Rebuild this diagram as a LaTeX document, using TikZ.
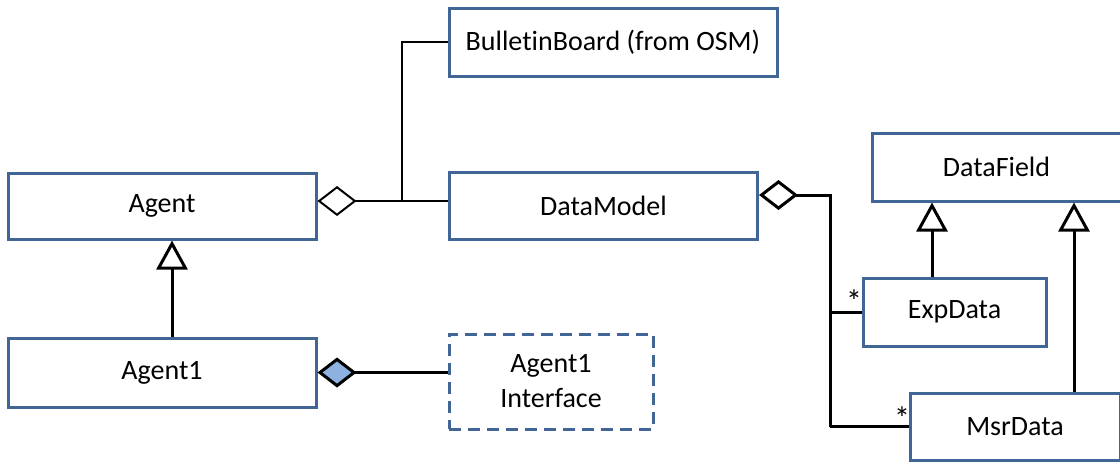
\documentclass[tikz,border=0pt]{standalone}
\usepackage{fontspec}
\setmainfont{Carlito}[Ligatures=NoCommon]
\usetikzlibrary{positioning,arrows.meta}
\definecolor{boxblue}{RGB}{65,101,148}
\definecolor{diafill}{RGB}{141,178,226}
\begin{document}
\begin{tikzpicture}[x=0.5pt,y=-0.5pt,
    cls/.style={draw=boxblue,line width=1.5pt,fill=white,align=center,inner sep=0pt,
        font=\fontsize{14}{17.5}\selectfont},
    mult/.style={inner sep=0pt,font=\fontsize{16}{16}\selectfont},
    link/.style={line width=1.5pt},
    thinlink/.style={line width=1pt},
    aggr/.style={-{Diamond[open,length=19.5pt,width=15pt]}},
    comp/.style={link,-{Diamond[fill=diafill,length=19.5pt,width=15pt]}},
    inherit/.style={link,-{Triangle[open,length=14.5pt,width=15.5pt]}}]
    \useasboundingbox (0,0) rectangle (1120,462);
    \node[cls,minimum width=154pt,minimum height=33pt] (agent) at (162,206) {Agent};
    \node[cls,minimum width=154pt,minimum height=34.5pt] (agentone) at (162,372.5) {Agent1};
    \node[cls,dash pattern=on 6pt off 3.5pt,minimum width=102pt,minimum height=47.5pt] (iface) at (551,381.5) {Agent1\\Interface};
    \node[cls,minimum width=164pt,minimum height=34pt] (board) at (613,42) {BulletinBoard (from OSM)};
    \node[cls,minimum width=154pt,minimum height=33.5pt] (model) at (603.5,206) {DataModel};
    \node[cls,minimum width=124.5pt,minimum height=34pt] (field) at (996.5,167) {DataField};
    \node[cls,minimum width=91.5pt,minimum height=34pt] (exp) at (954.5,312) {ExpData};
    \node[cls,minimum width=105pt,minimum height=33.5pt] (msr) at (1015,426.5) {MsrData};
    \coordinate (bbjoin) at (402,201);
    \coordinate (bus) at (830,426.5);
    \coordinate (expjoin) at (830,312);
    \draw[thinlink] (bbjoin) |- (board.west);
    \draw[thinlink,aggr] ([yshift=2.5pt]agent.east -| model.west) -- ([yshift=2.5pt]agent.east);
    \draw[link] (msr.west) -- (bus);
    \draw[link,aggr] (bus) |- ([yshift=5.5pt]model.east);
    \draw[link] (expjoin) -- (exp.west);
    \node[mult,above left=-0.5pt and -0.5pt of exp.west] (expmult) {*};
    \node[mult,above left=-1.75pt and -1pt of msr.west] (msrmult) {*};
    \draw[inherit] ([xshift=5pt]agentone.north) -- ([xshift=5pt]agentone.north |- agent.south);
    \draw[inherit] ([xshift=-11.25pt]exp.north) -- ([xshift=-11.25pt]exp.north |- field.south);
    \draw[inherit] ([xshift=29.5pt]msr.north) -- ([xshift=29.5pt]msr.north |- field.south);
    \draw[comp] (agentone.east -| iface.west) -- (agentone.east);
\end{tikzpicture}
\end{document}
